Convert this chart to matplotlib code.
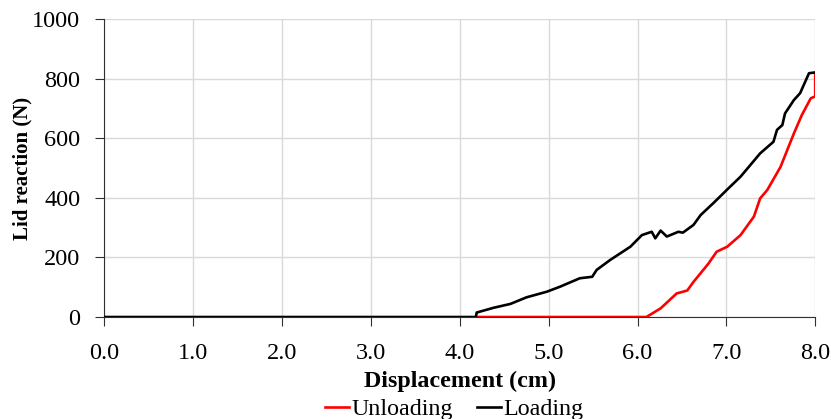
import matplotlib.pyplot as plt

plt.rcParams['font.family'] = ['Liberation Serif', 'DejaVu Serif']

# loading curve (black)
load_x = [0.0, 4.18, 4.19, 4.38, 4.57, 4.75, 4.98, 5.13, 5.35, 5.49, 5.54, 5.69, 5.92,
          6.05, 6.16, 6.20, 6.26, 6.33, 6.46, 6.51, 6.63, 6.71, 6.86, 7.01, 7.16, 7.38,
          7.53, 7.57, 7.63, 7.66, 7.76, 7.83, 7.93, 7.98, 8.0]
load_y = [0, 0, 15, 31, 44, 66, 85, 102, 130, 135, 158, 191, 236,
          275, 286, 264, 290, 270, 286, 283, 309, 342, 384, 428, 471, 549,
          588, 628, 644, 683, 728, 751, 818, 820, 820]

# unloading curve (red)
unload_x = [8.0, 8.0, 7.95, 7.85, 7.76, 7.61, 7.46, 7.38, 7.31, 7.16, 7.01, 6.89,
            6.80, 6.71, 6.63, 6.56, 6.44, 6.26, 6.10, 4.2]
unload_y = [820, 740, 734, 678, 616, 504, 426, 398, 337, 275, 236, 219,
            180, 147, 118, 89, 79, 29, 0, 0]

xticks = [0, 1, 2, 3, 4, 5, 6, 7, 8]
yticks = [0, 200, 400, 600, 800, 1000]

fig = plt.figure(figsize=(8.31, 4.19), dpi=100)
ax = fig.add_axes([0.1257, 0.2434, 0.8553, 0.7113])

ax.plot(unload_x, unload_y, color='#ff0000', lw=1.9, label='Unloading', zorder=3)
ax.plot(load_x, load_y, color='black', lw=1.9, label='Loading', zorder=3)

ax.set_xlim(0, 8)
ax.set_ylim(0, 1000)
ax.set_xticks(xticks)
ax.set_xticklabels(['%.1f' % v for v in xticks])
ax.set_yticks(yticks)
ax.grid(True, color='#d9d9d9', lw=1.0)
ax.set_axisbelow(True)
for s in ['top', 'right']:
    ax.spines[s].set_visible(False)
for s in ['left', 'bottom']:
    ax.spines[s].set_color('#303030')
ax.tick_params(labelsize=17.5, length=6.5, color='#303030')
ax.tick_params(axis='x', pad=12)
ax.tick_params(axis='y', pad=11)

ax.set_xlabel('Displacement (cm)', fontsize=17.3, fontweight='bold', labelpad=5)
ax.set_ylabel('Lid reaction (N)', fontsize=15, fontweight='bold', labelpad=0)

fig.legend(handles=ax.get_lines(), loc='lower center', bbox_to_anchor=(0.547, -0.032),
           ncol=2, frameon=False, fontsize=17.3, handlelength=1.0, handletextpad=0.1,
           columnspacing=1.0, borderpad=0)

fig.savefig('out.png', dpi=100)
